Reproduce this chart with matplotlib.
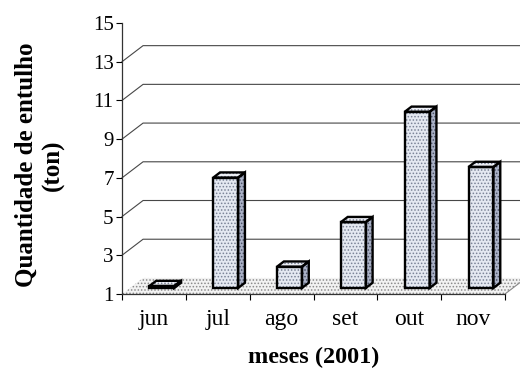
import numpy as np
import matplotlib.pyplot as plt
from matplotlib.patches import Polygon

# quantidade de entulho por mês (ton)
meses = ['jun', 'jul', 'ago', 'set', 'out', 'nov']
entulho = [1.1, 6.7, 2.1, 4.4, 10.1, 7.25]
y_ticks = [1, 3, 5, 7, 9, 11, 13, 15]

plt.rcParams['font.family'] = ['Liberation Serif', 'DejaVu Serif']
plt.rcParams['hatch.linewidth'] = 0.7

# deslocamento da profundidade (perspectiva) em unidades de dados
DX, DY = 0.33, 0.83
BASE = 1
LARG = 0.39
D0, D1 = 0.375, 0.70

fig = plt.figure(figsize=(5.2, 3.71), dpi=100)
ax = fig.add_axes([122 / 520, 77 / 371, 383 / 520, 271 / 371])
ax.set_xlim(0, len(meses))
ax.set_ylim(BASE, 15)

for s in ['top', 'right']:
    ax.spines[s].set_visible(False)
ax.spines['left'].set_color('#333333')
ax.spines['bottom'].set_color('#333333')
ax.spines['left'].set_linewidth(0.9)
ax.spines['bottom'].set_linewidth(0.9)

ax.set_yticks(y_ticks)
ax.tick_params(axis='y', direction='out', length=4, width=0.8, labelsize=15, pad=2)
ax.set_xticks(range(len(meses) + 1))
ax.set_xticklabels([])
ax.tick_params(axis='x', which='major', direction='out', length=4, width=0.8)
ax.set_xticks(np.arange(len(meses)) + 0.5, meses, minor=True)
ax.tick_params(axis='x', which='minor', length=0, labelsize=17, pad=11)

n = len(meses)

# linhas de grade na parede do fundo e na parede lateral
for v in y_ticks[1:-1]:
    ax.plot([0, DX, n + DX + 1], [v, v + DY, v + DY], color='#474747',
            lw=0.8, clip_on=False, zorder=1)

# piso pontilhado
piso = [(0, BASE), (n, BASE), (n + DX, BASE + DY), (DX, BASE + DY)]
ax.add_patch(Polygon(piso, closed=True, facecolor='#f2f2f2', edgecolor='none',
                     clip_on=False, zorder=1))
ax.add_patch(Polygon(piso, closed=True, facecolor='none', edgecolor='#8a8a8a',
                     hatch='.....', lw=0, clip_on=False, zorder=1))
ax.plot([n, n + DX], [BASE, BASE + DY], color='#888888', lw=0.8,
        clip_on=False, zorder=1)


def face(pts, cor, pontos):
    ax.add_patch(Polygon(pts, closed=True, facecolor=cor, edgecolor='none',
                         clip_on=False, zorder=3))
    ax.add_patch(Polygon(pts, closed=True, facecolor='none', edgecolor=pontos,
                         hatch='.....', lw=0, clip_on=False, zorder=3))
    ax.add_patch(Polygon(pts, closed=True, facecolor='none', edgecolor='black',
                         lw=1.7, joinstyle='miter', clip_on=False, zorder=4))


# colunas 3D
ox, oy = (D1 - D0) * DX, (D1 - D0) * DY
for i, v in enumerate(entulho):
    xl = i + 0.5 - LARG / 2 + D0 * DX
    xr = xl + LARG
    yb = BASE + D0 * DY
    yt = v + D0 * DY
    face([(xl, yb), (xr, yb), (xr, yt), (xl, yt)], '#e4e8f1', '#7a8296')
    face([(xr, yb), (xr + ox, yb + oy), (xr + ox, yt + oy), (xr, yt)], '#aab1c6', '#4a5166')
    face([(xl, yt), (xr, yt), (xr + ox, yt + oy), (xl + ox, yt + oy)], '#eef0f6', '#7a8296')

fig.text(40 / 520, 1 - 165 / 371, 'Quantidade de entulho\n(ton)', rotation=90,
         ha='center', va='center', fontsize=18, fontweight='bold', linespacing=1.2)
fig.text(314 / 520, 1 - 357 / 371, 'meses (2001)', ha='center', va='center',
         fontsize=17.5, fontweight='bold')

fig.savefig('out.png', dpi=100, facecolor='white')
